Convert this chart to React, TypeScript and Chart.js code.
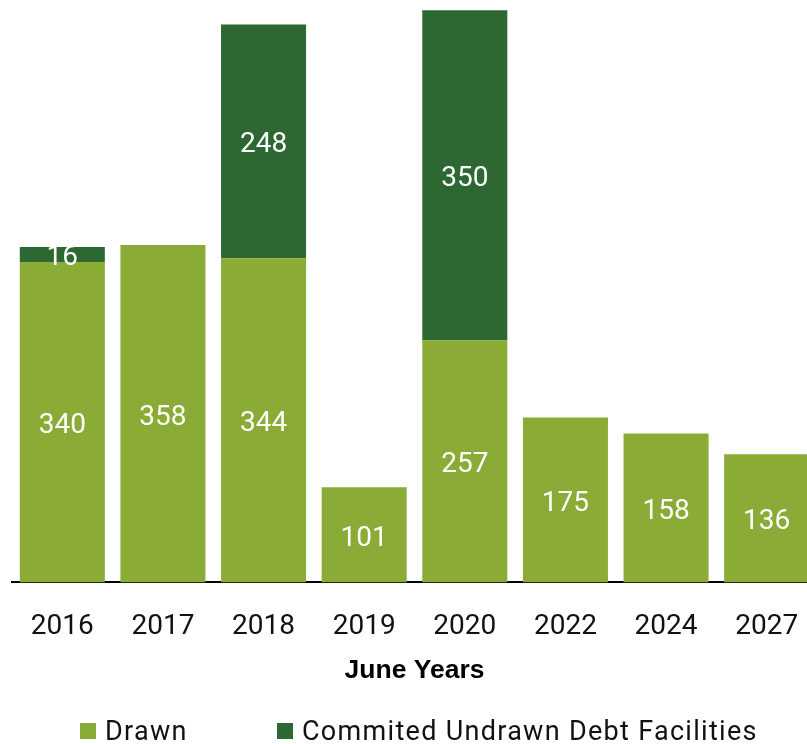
import React, { useEffect, useRef } from "react";
import { Chart, registerables } from "chart.js";

Chart.register(...registerables);

const categories = ["2016", "2017", "2018", "2019", "2020", "2022", "2024", "2027"];
const drawn = [340, 358, 344, 101, 257, 175, 158, 136];
const undrawn = [16, null, 248, null, 350, null, null, null];
const seriesNames = ["Drawn", "Commited Undrawn Debt Facilities"];
const axisTitle = "June Years";

const LIGHT = "#8aab35";
const DARK = "#2d6731";

const valueLabels = {
  id: "valueLabels",
  afterDatasetsDraw(chart: any) {
    const ctx = chart.ctx;
    ctx.save();
    ctx.fillStyle = "#ffffff";
    ctx.font = "28px Roboto";
    ctx.textAlign = "center";
    ctx.textBaseline = "middle";
    chart.data.datasets.forEach((ds: any, di: number) => {
      const meta = chart.getDatasetMeta(di);
      meta.data.forEach((el: any, i: number) => {
        const v = ds.data[i];
        if (v === null || v === undefined || v === 0) return;
        const { x, y, base } = el.getProps(["x", "y", "base"], true);
        ctx.fillText(String(v), x, (y + base) / 2 + 4);
      });
    });
    ctx.restore();
  },
};

export default function App() {
  const ref = useRef<HTMLCanvasElement | null>(null);
  useEffect(() => {
    if (!ref.current) return;
    const chart = new Chart(ref.current, {
      type: "bar",
      data: {
        labels: categories,
        datasets: [
          { label: seriesNames[0], data: drawn, backgroundColor: LIGHT, borderWidth: 0 },
          { label: seriesNames[1], data: undrawn as any, backgroundColor: DARK, borderWidth: 0 },
        ],
      },
      options: {
        responsive: false,
        animation: false,
        layout: { padding: { left: 12, right: 0, top: 0, bottom: 57.4 } },
        datasets: { bar: { barPercentage: 0.845, categoryPercentage: 1 } },
        plugins: { legend: { display: false }, tooltip: { enabled: false } },
        scales: {
          x: {
            stacked: true,
            grid: { display: false, drawTicks: true, tickLength: 28.2 },
            border: { display: true, color: "#000000", width: 2 },
            ticks: {
              padding: 0,
              color: "#111111",
              font: { family: "Roboto", size: 28, lineHeight: 1.2 },
            },
            title: {
              display: true,
              text: axisTitle,
              color: "#000000",
              font: { family: "Liberation Sans", size: 26.5, weight: "bold", lineHeight: 1.2 },
              padding: { top: 10.6, bottom: 0 },
            },
          },
          y: { stacked: true, display: false, min: 0, max: 618 },
        },
      },
      plugins: [valueLabels],
    });
    return () => chart.destroy();
  }, []);

  const legendText: React.CSSProperties = {
    fontFamily: "Roboto",
    fontSize: 27,
    letterSpacing: "1.3px",
    color: "#111111",
    lineHeight: "32px",
    whiteSpace: "nowrap",
  };
  const box = (c: string): React.CSSProperties => ({
    width: 16,
    height: 16,
    background: c,
    marginRight: 9,
    flex: "none",
  });

  return (
    <div style={{ position: "fixed", left: 0, top: 0, width: 807, height: 744, overflow: "hidden", background: "#fff" }}>
      <canvas ref={ref} width={817} height={744} style={{ position: "absolute", left: 0, top: 0, width: 817, height: 744 }} />
      <div style={{ position: "absolute", left: 80, top: 715, display: "flex", alignItems: "center" }}>
        <div style={box(LIGHT)} />
        <span style={legendText}>{seriesNames[0]}</span>
      </div>
      <div style={{ position: "absolute", left: 277, top: 715, display: "flex", alignItems: "center" }}>
        <div style={box(DARK)} />
        <span style={legendText}>{seriesNames[1]}</span>
      </div>
    </div>
  );
}
